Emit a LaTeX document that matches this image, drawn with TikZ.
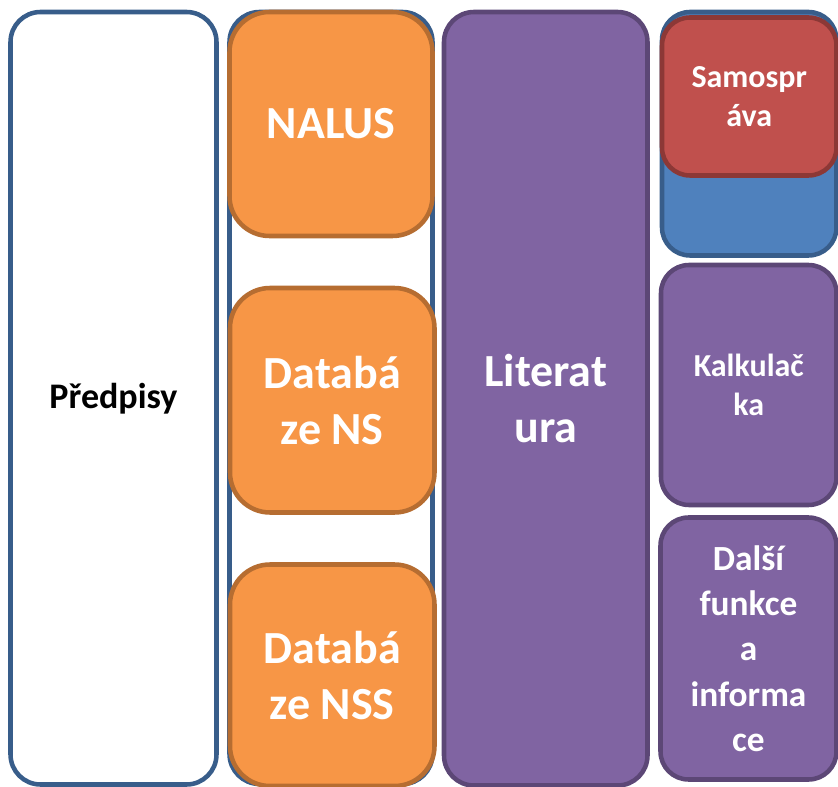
\documentclass[tikz,border=0pt]{standalone}
\usepackage{fontspec}
\setmainfont{Carlito}
\usepackage{tikz}
\usetikzlibrary{positioning}

\definecolor{blueline}{HTML}{385D8A}
\definecolor{bluefill}{HTML}{4F81BD}
\definecolor{orangeline}{HTML}{B66D31}
\definecolor{orangefill}{HTML}{F79646}
\definecolor{purpleline}{HTML}{5C4776}
\definecolor{purplefill}{HTML}{8064A2}
\definecolor{redline}{HTML}{8C3836}
\definecolor{redfill}{HTML}{C0504D}

\begin{document}
\begin{tikzpicture}[x=0.75pt,y=-0.75pt,line width=3.4pt]
	\tikzstyle{panel}=[rectangle,draw,inner sep=0pt,align=center,text=white]
	\tikzstyle{size}=[minimum width=#1*0.75pt]
	\tikzstyle{tall}=[minimum height=#1*0.75pt]
	\tikzstyle{bigtext}=[font=\bfseries\fontsize{34.5}{42}\selectfont]
	\tikzstyle{smalltext}=[font=\bfseries\fontsize{24}{29}\selectfont]
	\tikzstyle{frame}=[panel,draw=blueline,fill=white,rounded corners=22.5pt]
	\tikzstyle{orangebox}=[panel,draw=orangeline,fill=orangefill,rounded corners=30pt,bigtext]
	\tikzstyle{purplebox}=[panel,draw=purpleline,fill=purplefill]
	\useasboundingbox (0,0) rectangle (838,787);

	% left column
	\node[frame,size=206,tall=772.5,text=black,font=\bfseries\fontsize{27}{32}\selectfont]
		(predpisy) at (113.5,398.25) {\raisebox{-4pt}{Předpisy}};

	% courts column
	\node[frame,size=203,tall=772] (soudy) at (331,398) {};
	\node[orangebox,size=203,tall=224]   (nalus) at (331,124)     {NALUS};
	\node[orangebox,size=204.5,tall=224.5] (ns)  at (332.25,400.25) {Databá\\ze NS};
	\node[orangebox,size=204.5,tall=221.5] (nss) at (332.25,675.25) {Databá\\ze NSS};

	% literature
	\node[purplebox,rounded corners=22.5pt,bigtext,size=203.5,tall=773.5]
		(literatura) at (545.75,398.75) {Literat\\ura};

	% right column
	\node[panel,draw=blueline,fill=bluefill,rounded corners=21pt,size=174.5,tall=243.5]
		(obce) at (749.25,133.75) {};
	\node[panel,draw=redline,fill=redfill,rounded corners=21pt,smalltext,size=174.5,tall=158]
		(samosprava) at (749.25,96.5) {Samospr\\áva};
	\node[purplebox,rounded corners=21pt,smalltext,size=175.5,tall=240]
		(kalkulacka) at (748.75,385) {Kalkulač\\ka};
	\node[purplebox,rounded corners=21pt,font=\bfseries\fontsize{26.5}{34}\selectfont,size=176,tall=262]
		(dalsi) at (748.5,648.5) {Další\\funkce\\a\\informa\\ce};
\end{tikzpicture}
\end{document}
